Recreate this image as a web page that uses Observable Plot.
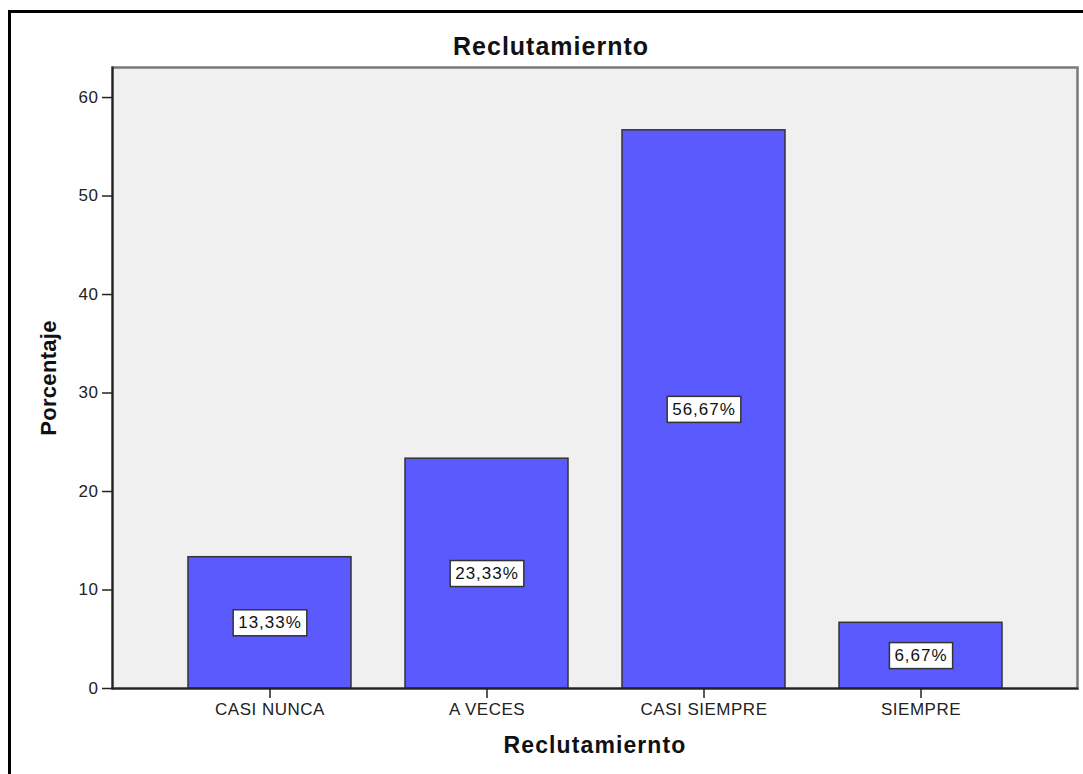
<!DOCTYPE html>
<html>
<head>
<meta charset="utf-8">
<script src="https://cdn.jsdelivr.net/npm/d3@7"></script>
<script src="https://cdn.jsdelivr.net/npm/@observablehq/plot@0.6"></script>
<style>
  body { margin: 0; background: #fff; }
  #wrap { position: relative; width: 1083px; height: 774px; overflow: hidden; }
  #border { position: absolute; left: 8px; top: 10px; width: 1200px; height: 900px; border: 3px solid #000; box-sizing: border-box; pointer-events: none; }
  #wrap svg { position: absolute; left: 0; top: 0; }
  #wrap svg text { letter-spacing: 0.5px; }
  #wrap svg g.bar-label text { letter-spacing: 1px; }
  #wrap svg g.chart-title text { letter-spacing: 1px; }
  #wrap svg g.x-title text { letter-spacing: 1.1px; }
  #wrap svg g.y-title text { letter-spacing: 0.3px; }
</style>
</head>
<body>
<div id="wrap"><div id="border"></div></div>
<script>
// Reclutamiento: porcentaje de respuestas por categoría
const categories = ["CASI NUNCA", "A VECES", "CASI SIEMPRE", "SIEMPRE"];
const percentages = [13.33, 23.33, 56.67, 6.67];
const yTicks = [0, 10, 20, 30, 40, 50, 60];
const chartTitle = "Reclutamiernto";
const xTitle = "Reclutamiernto";
const yTitle = "Porcentaje";

const font = "Arial, 'Liberation Sans', sans-serif";

const data = categories.map((c, i) => ({
  categoria: c,
  porcentaje: percentages[i],
  etiqueta: percentages[i].toFixed(2).replace(".", ",") + "%"
}));

// tag a mark's group with a class so it can be styled and found after rendering
const tag = (cls) => (index, scales, values, dims, ctx, next) => {
  const g = next(index, scales, values, dims, ctx);
  g.setAttribute("class", cls);
  return g;
};

const chart = Plot.plot({
  width: 1083,
  height: 774,
  marginTop: 67,
  marginBottom: 86,
  marginLeft: 112,
  marginRight: 6,
  style: { fontFamily: font, fontSize: "17px", color: "#222", background: "transparent", overflow: "visible" },
  x: { domain: categories, paddingInner: 0.25, paddingOuter: 0.343 },
  y: { domain: [0, 63.05] },
  marks: [
    Plot.frame({ fill: "#f0f0f0", stroke: "#7a7a7a", strokeWidth: 2.5 }),
    Plot.barY(data, { x: "categoria", y: "porcentaje", fill: "#5a5aff", stroke: "#333", strokeWidth: 1.5 }),
    Plot.frame({ anchor: "left", stroke: "#222", strokeWidth: 2 }),
    Plot.frame({ anchor: "bottom", stroke: "#222", strokeWidth: 2 }),
    Plot.axisY({ ticks: yTicks, tickSize: 10, tickPadding: 4, label: null, fontSize: 17, strokeWidth: 1.5 }),
    Plot.axisX({ tickSize: 10, tickPadding: 4, label: null, fontSize: 17, strokeWidth: 1.5 }),
    Plot.text(data, {
      x: "categoria",
      y: (d) => d.porcentaje / 2,
      text: "etiqueta",
      fontSize: 17,
      fill: "#111",
      render: tag("bar-label")
    }),
    Plot.text([chartTitle], {
      frameAnchor: "top", textAnchor: "middle", lineAnchor: "middle", dx: -44, dy: -21,
      fontWeight: "bold", fontSize: 25, fill: "#111", render: tag("chart-title")
    }),
    Plot.text([xTitle], {
      frameAnchor: "bottom", textAnchor: "middle", lineAnchor: "middle", dy: 57,
      fontWeight: "bold", fontSize: 23, fill: "#111", render: tag("x-title")
    }),
    Plot.text([yTitle], {
      frameAnchor: "left", textAnchor: "middle", lineAnchor: "middle", dx: -64, rotate: -90,
      fontWeight: "bold", fontSize: 22, fill: "#111", render: tag("y-title")
    })
  ]
});

document.getElementById("wrap").prepend(chart);

// white boxes behind the bar value labels
d3.select(chart).selectAll("g.bar-label text").each(function () {
  const b = this.getBBox();
  const padX = 5, padY = 3.5;
  const rect = document.createElementNS("http://www.w3.org/2000/svg", "rect");
  rect.setAttribute("x", b.x - padX);
  rect.setAttribute("y", b.y - padY);
  rect.setAttribute("width", b.width + 2 * padX);
  rect.setAttribute("height", b.height + 2 * padY);
  rect.setAttribute("fill", "#fff");
  rect.setAttribute("stroke", "#333");
  rect.setAttribute("stroke-width", "1.5");
  const t = this.getAttribute("transform");
  if (t) rect.setAttribute("transform", t);
  this.parentNode.insertBefore(rect, this);
});
</script>
</body>
</html>
